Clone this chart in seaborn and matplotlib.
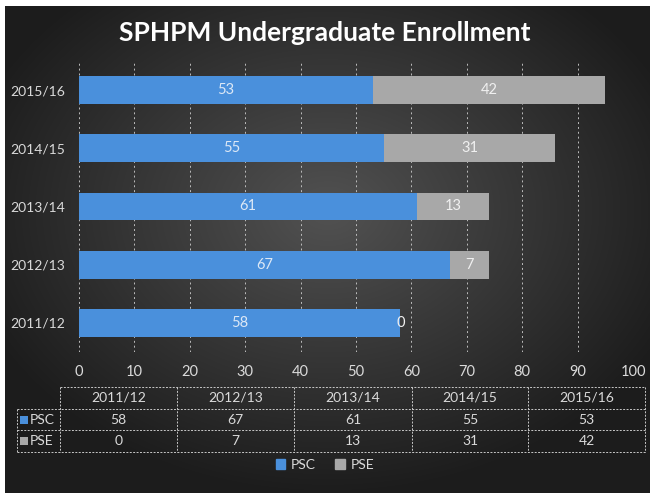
import numpy as np
import pandas as pd
import seaborn as sns
import matplotlib.pyplot as plt
from matplotlib.patches import Patch, Rectangle
from matplotlib.lines import Line2D

# --- data ---
years = ["2011/12", "2012/13", "2013/14", "2014/15", "2015/16"]
psc = [58, 67, 61, 55, 53]
pse = [0, 7, 13, 31, 42]

df = pd.DataFrame({"Year": years, "PSC": psc, "PSE": pse})
df["Total"] = df["PSC"] + df["PSE"]
order = years[::-1]  # top to bottom

blue = "#4a90dc"
gray = "#a8a8a8"
txt = "#dadada"

sns.set_style("dark")
plt.rcParams["font.family"] = ["Lato", "DejaVu Sans"]

W, H = 650, 493
fig = plt.figure(figsize=(W / 100, H / 100), dpi=100, facecolor="white")


def fx(x):
    return x / W


def fy(y):
    return 1 - y / H


# --- radial dark background ---
bg = fig.add_axes([fx(5), 0, 1 - fx(5), fy(6)])
h, w = 487, 645
yy, xx = np.mgrid[0:h, 0:w]
r = np.sqrt(((xx - w * 0.5) / w) ** 2 + ((yy - h * 0.42) / h) ** 2)
v = np.clip(0.32 - 0.36 * r, 0.11, 1)
bg.imshow(np.dstack([v, v, v]), aspect="auto", interpolation="bilinear")
bg.set_axis_off()

# --- bar chart ---
ax = fig.add_axes([fx(79), fy(352), fx(633) - fx(79), fy(61) - fy(352)])
ax.set_facecolor("none")
ax.set_axisbelow(True)

sns.barplot(data=df, y="Year", x="Total", order=order, color=gray,
            saturation=1, width=0.48, edgecolor="none", linewidth=0, ax=ax)
sns.barplot(data=df, y="Year", x="PSC", order=order, color=blue,
            saturation=1, width=0.48, edgecolor="none", linewidth=0, ax=ax)

for i, yr in enumerate(order):
    row = df[df["Year"] == yr].iloc[0]
    ax.text(row["PSC"] / 2, i, str(row["PSC"]), ha="center", va="center",
            color="#dce8f6", fontsize=10.5)
    ax.text(row["PSC"] + row["PSE"] / 2, i, str(row["PSE"]), ha="center",
            va="center", color="#f0f0f0", fontsize=10.5)

ax.set_xlim(0, 100)
ax.set_ylim(4.5, -0.5)
ax.set_xticks(range(0, 101, 10))
ax.xaxis.grid(True, linestyle=(0, (2, 3)), color="#bdbdbd", linewidth=0.7)
ax.yaxis.grid(False)
ax.set_xlabel("")
ax.set_ylabel("")
for s in ax.spines.values():
    s.set_visible(False)
ax.tick_params(axis="x", colors=txt, labelsize=10.5, pad=9, length=0)
ax.tick_params(axis="y", colors=txt, labelsize=10, pad=10, length=0)

fig.text(0.5, fy(33), "SPHPM Undergraduate Enrollment", ha="center",
         va="center", color="white", fontsize=19, fontweight="bold")

# --- data table ---
xs = [60, 177, 294, 412, 528, 645]
ys = [387, 409, 430, 452]
lkw = dict(color="#c8c8c8", linewidth=0.7, linestyle=(0, (2, 1.5)),
           transform=fig.transFigure)
fig.add_artist(Line2D([fx(60), fx(645)], [fy(387), fy(387)], **lkw))
for y in ys[1:]:
    fig.add_artist(Line2D([fx(17), fx(645)], [fy(y), fy(y)], **lkw))
fig.add_artist(Line2D([fx(17), fx(17)], [fy(409), fy(452)], **lkw))
for x in xs:
    fig.add_artist(Line2D([fx(x), fx(x)], [fy(387), fy(452)], **lkw))

for j, yr in enumerate(years):
    cx = (xs[j] + xs[j + 1]) / 2
    fig.text(fx(cx), fy(398), yr, ha="center", va="center", color=txt, fontsize=10)
    fig.text(fx(cx), fy(419.5), str(psc[j]), ha="center", va="center", color=txt, fontsize=10)
    fig.text(fx(cx), fy(441), str(pse[j]), ha="center", va="center", color=txt, fontsize=10)

for name, col, yc in [("PSC", blue, 419.5), ("PSE", gray, 441)]:
    fig.add_artist(Rectangle((fx(20), fy(yc + 4)), fx(8), fy(0) - fy(8),
                             facecolor=col, edgecolor="none", transform=fig.transFigure))
    fig.text(fx(30), fy(yc), name, ha="left", va="center", color=txt, fontsize=10)

# --- legend ---
handles = [Patch(color=blue, label="PSC"), Patch(color=gray, label="PSE")]
fig.legend(handles=handles, loc="center", bbox_to_anchor=(0.5, fy(465)), ncol=2,
           frameon=False, handlelength=0.7, handleheight=0.7, handletextpad=0.4,
           columnspacing=1.4, labelcolor=txt, fontsize=10)

fig.savefig("out.png", dpi=100)
